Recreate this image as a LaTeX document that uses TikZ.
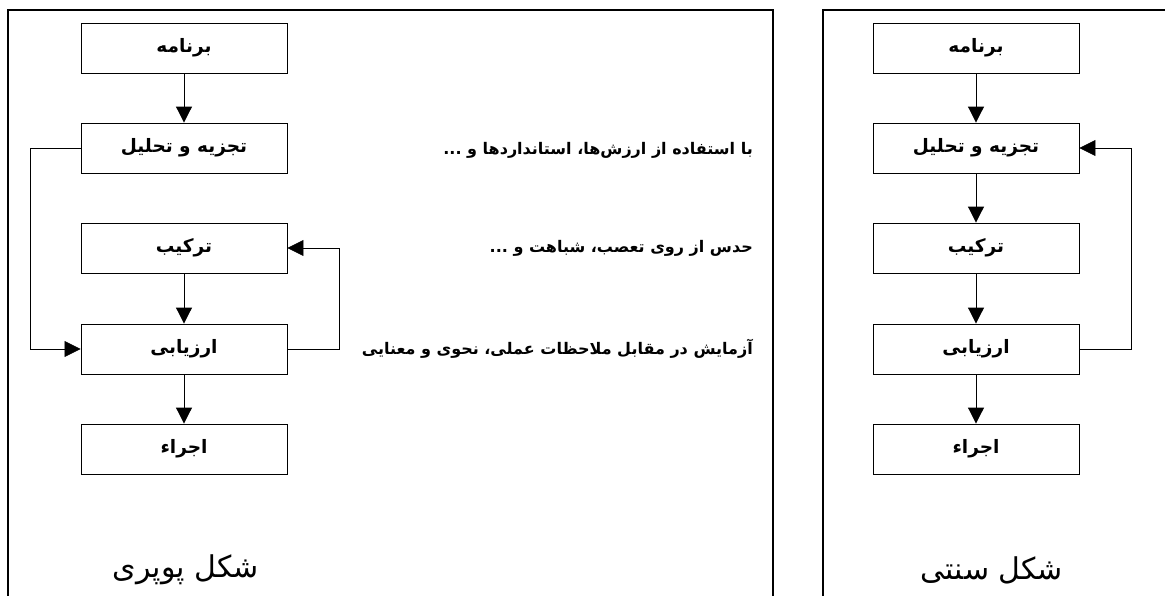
\documentclass[tikz,border=0pt]{standalone}
\usepackage{fontspec}
\usetikzlibrary{arrows.meta}
\TeXXeTstate=1
\newfontfamily\arabicfont[Script=Arabic]{DejaVu Sans}
\newcommand{\fa}[1]{\arabicfont\beginR #1\endR}
\begin{document}
\begin{tikzpicture}[x=1pt,y=-1pt,
  stepbox/.style={draw,line width=0.9pt,minimum width=206pt,minimum height=50pt,inner sep=0pt,font=\arabicfont\bfseries\fontsize{18.5}{22}\selectfont},
  flow/.style={line width=1pt,-{Triangle[length=16pt,width=16pt]}},
  fb/.style={line width=0.7pt,-{Triangle[length=16pt,width=16pt]}},
  panel/.style={line width=1.3pt},
  note/.style={anchor=east,inner sep=0pt,font=\arabicfont\bfseries\fontsize{16}{19}\selectfont},
  caption/.style={inner sep=0pt,font=\arabicfont\fontsize{30}{34}\selectfont}]
\useasboundingbox (0,0) rectangle (1165,596);
% panels
\draw[panel] (8,596) -- (8,10) -- (773,10) -- (773,596);
\draw[panel] (823,596) -- (823,10) -- (1165,10);
% left (Popperian)
\node[stepbox] (p1) at (184,48)  {\beginR برنامه\endR};
\node[stepbox] (p2) at (184,148) {\beginR تجزیه و تحلیل\endR};
\node[stepbox] (p3) at (184,248) {\beginR ترکیب\endR};
\node[stepbox] (p4) at (184,349) {\beginR ارزیابی\endR};
\node[stepbox] (p5) at (184,449) {\beginR اجراء\endR};
\draw[flow] (p1) -- (p2);
\draw[flow] (p3) -- (p4);
\draw[flow] (p4) -- (p5);
\draw[fb] (p2.west) -- ++(-50,0) |- (p4.west);
\draw[fb] (p4.east) -- ++(52,0) |- (p3.east);
\node[note] (n1) at (753,150) {\beginR با استفاده از ارزش\char"200C{}ها، استانداردها و ...\endR};
\node[note] (n2) at (753,248) {\beginR حدس از روی تعصب، شباهت و ...\endR};
\node[note] (n3) at (753,349) {\beginR آزمایش در مقابل ملاحظات عملی، نحوی و معنایی\endR};
\node[caption] (c1) at (186,570) {\fa{شکل پوپری}};
% right (traditional)
\node[stepbox] (s1) at (976,48)  {\beginR برنامه\endR};
\node[stepbox] (s2) at (976,148) {\beginR تجزیه و تحلیل\endR};
\node[stepbox] (s3) at (976,248) {\beginR ترکیب\endR};
\node[stepbox] (s4) at (976,349) {\beginR ارزیابی\endR};
\node[stepbox] (s5) at (976,449) {\beginR اجراء\endR};
\draw[flow] (s1) -- (s2);
\draw[flow] (s2) -- (s3);
\draw[flow] (s3) -- (s4);
\draw[flow] (s4) -- (s5);
\draw[fb] (s4.east) -- ++(52,0) |- (s2.east);
\node[caption] (c2) at (992,570) {\fa{شکل سنتی}};
\end{tikzpicture}
\end{document}
